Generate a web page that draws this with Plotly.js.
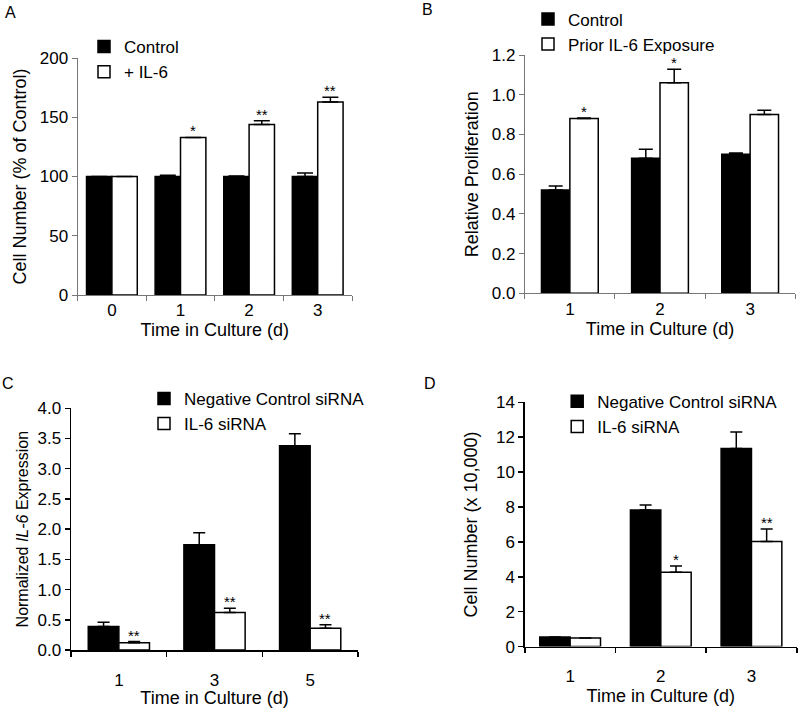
<!DOCTYPE html>
<html>
<head>
<meta charset="utf-8">
<script src="https://cdn.plot.ly/plotly-3.0.1.min.js"></script>
<style>html,body{margin:0;padding:0;background:#fff}#chart{width:800px;height:708px}</style>
</head>
<body>
<div id="chart"></div>
<script>
// Panel A
const catsA = ['0', '1', '2', '3'];
const controlA = [100, 100, 100, 100];
const controlErrA = [0, 1, 0.5, 3];
const il6A = [100, 133, 144, 163];
const il6ErrA = [0, 0, 3, 4];
const il6SigA = ['', '*', '**', '**'];

// Panel B
const catsB = ['1', '2', '3'];
const controlB = [0.52, 0.68, 0.70];
const controlErrB = [0.02, 0.045, 0.006];
const priorB = [0.88, 1.06, 0.90];
const priorErrB = [0.003, 0.068, 0.022];
const priorSigB = ['*', '*', ''];

// Panel C
const catsC = ['1', '3', '5'];
const negC = [0.39, 1.74, 3.38];
const negErrC = [0.07, 0.20, 0.20];
const sirnaC = [0.12, 0.62, 0.36];
const sirnaErrC = [0.02, 0.07, 0.06];
const sirnaSigC = ['**', '**', '**'];

// Panel D
const catsD = ['1', '2', '3'];
const negD = [0.55, 7.83, 11.35];
const negErrD = [0, 0.28, 0.95];
const sirnaD = [0.50, 4.26, 6.02];
const sirnaErrD = [0, 0.36, 0.72];
const sirnaSigD = ['', '*', '**'];

const FONT = 'Liberation Sans, Arial, sans-serif';
const zeros = n => new Array(n).fill(0);

function pair(cats, y1, e1, y2, e2, names, xa, ya, leg, w, capw) {
  const t1 = {
    type: 'bar', x: cats, y: y1, name: names[0], xaxis: xa, yaxis: ya, legend: leg,
    width: w, offset: -w,
    marker: {color: '#000', line: {color: '#000', width: 1.5}},
    error_y: {type: 'data', array: e1, arrayminus: zeros(cats.length), symmetric: false,
              color: '#000', thickness: 1.5, width: capw}
  };
  const t2 = {
    type: 'bar', x: cats, y: y2, name: names[1], xaxis: xa, yaxis: ya, legend: leg,
    width: w, offset: 0,
    marker: {color: '#fff', line: {color: '#000', width: 1.5}},
    error_y: {type: 'data', array: e2, arrayminus: zeros(cats.length), symmetric: false,
              color: '#000', thickness: 1.5, width: capw}
  };
  return [t1, t2];
}

const wA = 0.37, wB = 0.315, wC = 0.32, wD = 0.335;
const data = [].concat(
  pair(catsA, controlA, controlErrA, il6A, il6ErrA, ['Control', '+ IL-6'], 'x', 'y', 'legend', wA, 8),
  pair(catsB, controlB, controlErrB, priorB, priorErrB, ['Control', 'Prior IL-6 Exposure'], 'x2', 'y2', 'legend2', wB, 7),
  pair(catsC, negC, negErrC, sirnaC, sirnaErrC, ['Negative Control siRNA', 'IL-6 siRNA'], 'x3', 'y3', 'legend3', wC, 6),
  pair(catsD, negD, negErrD, sirnaD, sirnaErrD, ['Negative Control siRNA', 'IL-6 siRNA'], 'x4', 'y4', 'legend4', wD, 6)
);

function sigAnn(sig, vals, errs, xref, yref, w) {
  const out = [];
  sig.forEach((s, i) => {
    if (!s) return;
    out.push({text: s, x: i + w / 2, y: vals[i] + errs[i], xref: xref, yref: yref,
      showarrow: false, yanchor: 'bottom', yshift: -4, font: {family: FONT, size: 15, color: '#000'}});
  });
  return out;
}

function xax(domain, lineColor, lw, lblStandoff) {
  return {domain: domain, type: 'category', showline: true, linecolor: lineColor, linewidth: lw,
    ticks: 'outside', tickson: 'boundaries', ticklen: 5, tickcolor: lineColor, tickwidth: lw,
    ticklabelstandoff: lblStandoff,
    showgrid: false, zeroline: false, fixedrange: true,
    tickfont: {family: FONT, size: 17, color: '#000'},
    title: {text: 'Time in Culture (d)', font: {family: FONT, size: 18, color: '#000'}, standoff: 2}};
}
function yax(domain, range, dtick, fmt, title, lineColor, lw, standoff, tsize) {
  return {domain: domain, range: range, dtick: dtick, tick0: 0, tickformat: fmt,
    showline: true, linecolor: lineColor, linewidth: lw,
    ticks: 'outside', ticklen: 5, tickcolor: lineColor, tickwidth: lw,
    showgrid: false, zeroline: false, fixedrange: true, automargin: true,
    tickfont: {family: FONT, size: 17, color: '#000'},
    title: {text: title, font: {family: FONT, size: tsize, color: '#000'}, standoff: standoff}};
}

const legBase = {bgcolor: 'rgba(0,0,0,0)', borderwidth: 0, xanchor: 'left', yanchor: 'top',
  font: {family: FONT, size: 17, color: '#000'}, traceorder: 'normal', tracegroupgap: 0};

const letter = (t, x, y) => ({text: t, x: x, y: y, xref: 'paper', yref: 'paper', showarrow: false,
  xanchor: 'center', yanchor: 'middle', font: {family: FONT, size: 16, color: '#000'}});

const layout = {
  width: 800, height: 708,
  margin: {l: 0, r: 0, t: 0, b: 0, autoexpand: false},
  paper_bgcolor: '#fff', plot_bgcolor: 'rgba(0,0,0,0)',
  barmode: 'group', bargap: 0.3, bargroupgap: 0,
  showlegend: true,
  font: {family: FONT, color: '#000'},
  xaxis: xax([0.097, 0.44], '#777', 1, 0),
  yaxis: yax([0.5833, 0.918], [0, 200], 50, 'd', 'Cell Number (% of Control)', '#777', 1, 8, 18),
  xaxis2: Object.assign(xax([0.656, 0.994], '#777', 1, 0), {anchor: 'y2'}),
  yaxis2: Object.assign(yax([0.5857, 0.9223], [0, 1.2], 0.2, '.1f', 'Relative Proliferation', '#777', 1, 8, 18), {anchor: 'x2'}),
  xaxis3: Object.assign(xax([0.0888, 0.4475], '#000', 1.5, 14), {anchor: 'y3'}),
  yaxis3: Object.assign(yax([0.0819, 0.4233], [0, 4], 0.5, '.1f', 'Normalized <i>IL-6</i> Expression', '#000', 1.5, 5, 16), {anchor: 'x3'}),
  xaxis4: Object.assign(xax([0.656, 0.996], '#000', 1.5, 13), {anchor: 'y4'}),
  yaxis4: Object.assign(yax([0.0867, 0.4318], [0, 14], 2, 'd', 'Cell Number (x 10,000)', '#000', 1.5, 13, 18), {anchor: 'x4'}),
  legend: Object.assign({}, legBase, {x: 0.105, y: 0.959}),
  legend2: Object.assign({}, legBase, {x: 0.66, y: 0.998}),
  legend3: Object.assign({}, legBase, {x: 0.18, y: 0.462}),
  legend4: Object.assign({}, legBase, {x: 0.6965, y: 0.458}),
  annotations: [].concat(
    sigAnn(il6SigA, il6A, il6ErrA, 'x', 'y', wA),
    sigAnn(priorSigB, priorB, priorErrB, 'x2', 'y2', wB),
    sigAnn(sirnaSigC, sirnaC, sirnaErrC, 'x3', 'y3', wC),
    sigAnn(sirnaSigD, sirnaD, sirnaErrD, 'x4', 'y4', wD),
    [letter('A', 0.0125, 0.983), letter('B', 0.534, 0.986), letter('C', 0.01, 0.459), letter('D', 0.5375, 0.459)]
  )
};

Plotly.newPlot('chart', data, layout, {displayModeBar: false, staticPlot: true});
</script>
</body>
</html>
